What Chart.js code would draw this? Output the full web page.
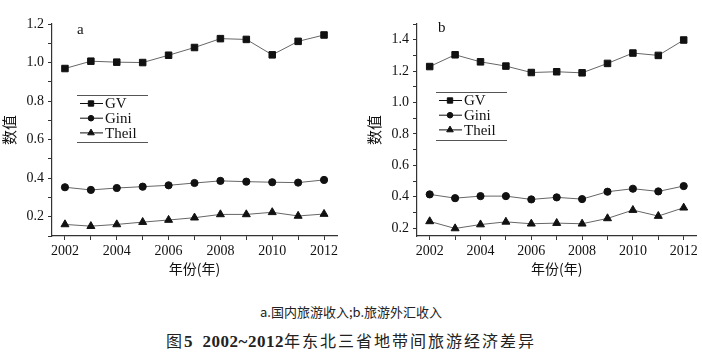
<!DOCTYPE html>
<html>
<head>
<meta charset="utf-8">
<script src="https://cdn.jsdelivr.net/npm/chart.js@4/dist/chart.umd.min.js"></script>
<style>
  body { margin: 0; background: #fff; width: 702px; height: 361px; position: relative; overflow: hidden; }
  .panel { position: absolute; top: 0; height: 290px; }
  #panelA { left: 0; width: 345px; }
  #panelB { left: 365px; width: 337px; }
  .cap { position: absolute; left: 0; width: 702px; text-align: center; color: #222; }
  #sub { top: 302px; font: 13px 'Noto Sans CJK SC', sans-serif; }
  #fig { top: 328px; font: 16px 'Noto Sans CJK SC', serif; letter-spacing: 2px; }
  #fig b { font-family: 'Liberation Serif', serif; font-size: 17px; letter-spacing: 0.5px; }
</style>
</head>
<body>
<div class="panel" id="panelA"><canvas id="chartA"></canvas></div>
<div class="panel" id="panelB"><canvas id="chartB"></canvas></div>
<div class="cap" id="sub">a.国内旅游收入;b.旅游外汇收入</div>
<div class="cap" id="fig">图<b>5 &nbsp;2002~2012</b>年东北三省地带间旅游经济差异</div>
<script>
const years = [2002, 2003, 2004, 2005, 2006, 2007, 2008, 2009, 2010, 2011, 2012];
const yearLabels = ['2002', '2004', '2006', '2008', '2010', '2012'];
const seriesNames = ['GV', 'Gini', 'Theil'];

// a: domestic tourism income
const gvA = [0.969, 1.007, 1.002, 1.000, 1.038, 1.078, 1.124, 1.120, 1.040, 1.110, 1.143];
const giniA = [0.353, 0.339, 0.349, 0.356, 0.363, 0.375, 0.386, 0.382, 0.379, 0.377, 0.391];
const theilA = [0.160, 0.151, 0.160, 0.172, 0.183, 0.195, 0.212, 0.212, 0.223, 0.204, 0.214];
const yTicksA = [0.1, 0.2, 0.3, 0.4, 0.5, 0.6, 0.7, 0.8, 0.9, 1.0, 1.1, 1.2];
const yLabelsA = ['0.2', '0.4', '0.6', '0.8', '1.0', '1.2'];

// b: foreign exchange income
const gvB = [1.229, 1.304, 1.259, 1.232, 1.191, 1.196, 1.189, 1.249, 1.315, 1.300, 1.398];
const giniB = [0.415, 0.391, 0.404, 0.404, 0.383, 0.396, 0.385, 0.432, 0.451, 0.434, 0.468];
const theilB = [0.243, 0.198, 0.223, 0.240, 0.228, 0.232, 0.228, 0.262, 0.315, 0.277, 0.330];
const yTicksB = [0.2, 0.3, 0.4, 0.5, 0.6, 0.7, 0.8, 0.9, 1.0, 1.1, 1.2, 1.3, 1.4, 1.5];
const yLabelsB = ['0.2', '0.4', '0.6', '0.8', '1.0', '1.2', '1.4'];

const MARKERS = [
  { style: 'rect', radius: 4.6 },
  { style: 'circle', radius: 3.6 },
  { style: 'triangle', radius: 4.6 }
];
const LINE = '#666';
const INK = '#111';
const SERIF = "'Liberation Serif', 'Times New Roman', serif";

const legendBox = {
  id: 'legendBox',
  afterDatasetsDraw(chart, args, opts) {
    const ctx = chart.ctx;
    ctx.save();
    ctx.strokeStyle = '#555';
    ctx.lineWidth = 1;
    ctx.beginPath();
    ctx.moveTo(opts.x, opts.y + 0.5);
    ctx.lineTo(opts.x + opts.w, opts.y + 0.5);
    ctx.moveTo(opts.x, opts.y + opts.h + 0.5);
    ctx.lineTo(opts.x + opts.w, opts.y + opts.h + 0.5);
    ctx.stroke();

    chart.data.datasets.forEach((ds, i) => {
      const cy = opts.y + 8.5 + i * 14.7;
      ctx.strokeStyle = INK;
      ctx.beginPath();
      ctx.moveTo(opts.x + 3, cy);
      ctx.lineTo(opts.x + 26, cy);
      ctx.stroke();
      ctx.fillStyle = INK;
      Chart.helpers.drawPoint(ctx, {
        pointStyle: ds.pointStyle, radius: ds.pointRadius - 0.8, rotation: 0, borderWidth: 1
      }, opts.x + 14, cy);
      ctx.font = '15px ' + SERIF;
      ctx.textBaseline = 'middle';
      ctx.textAlign = 'left';
      ctx.fillText(ds.label, opts.x + 28, cy + 1);
    });

    ctx.font = '15px ' + SERIF;
    ctx.textBaseline = 'middle';
    ctx.fillText(opts.letter, opts.lx, opts.ly);
    ctx.restore();
  }
};

function fixedTicks(values) {
  return (s) => { s.ticks = values.map(v => ({ value: v })); };
}

function makeChart(id, values, yTicks, yLabels, yMin, yMax, legend) {
  const datasets = values.map((vals, i) => ({
    label: seriesNames[i],
    data: years.map((yr, k) => ({ x: yr, y: vals[k] })),
    borderColor: LINE,
    borderWidth: 1,
    backgroundColor: INK,
    pointBackgroundColor: INK,
    pointBorderColor: INK,
    pointBorderWidth: 1,
    pointStyle: MARKERS[i].style,
    pointRadius: MARKERS[i].radius,
    tension: 0
  }));

  return new Chart(document.getElementById(id), {
    type: 'line',
    data: { datasets },
    options: {
      responsive: true,
      maintainAspectRatio: false,
      animation: false,
      layout: { padding: { top: 24, right: legend.padRight, left: 0, bottom: 0 } },
      plugins: {
        legend: { display: false },
        tooltip: { enabled: false },
        legendBox: legend
      },
      scales: {
        x: {
          type: 'linear',
          min: 2001.5,
          max: 2012.5,
          afterBuildTicks: fixedTicks(years),
          afterFit: (s) => { s.height = 54; },
          border: { color: '#333', width: 1.2 },
          grid: { drawOnChartArea: false, drawTicks: true, tickLength: 4, color: '#333' },
          ticks: {
            autoSkip: false,
            maxRotation: 0,
            padding: 3,
            color: INK,
            font: { family: SERIF, size: 14 },
            callback: (v) => (yearLabels.includes(String(v)) ? String(v) : '')
          },
          title: {
            display: true,
            text: '年份(年)',
            color: INK,
            padding: { top: 0, bottom: 13 },
            font: { family: "'Noto Sans CJK SC', sans-serif", size: 14 }
          }
        },
        y: {
          min: yMin,
          max: yMax,
          afterBuildTicks: fixedTicks(yTicks),
          afterFit: (s) => { s.width = 52; },
          border: { color: '#333', width: 1.2 },
          grid: { drawOnChartArea: false, drawTicks: true, tickLength: 4, color: '#333' },
          ticks: {
            autoSkip: false,
            padding: 4,
            color: INK,
            font: { family: SERIF, size: 14 },
            callback: (v) => (yLabels.includes(v.toFixed(1)) ? v.toFixed(1) : '')
          },
          title: {
            display: true,
            text: '数值',
            color: INK,
            padding: { top: 0, bottom: 0 },
            font: { family: "'Noto Sans CJK SC', sans-serif", size: 15 }
          }
        }
      }
    },
    plugins: [legendBox]
  });
}

makeChart('chartA', [gvA, giniA, theilA], yTicksA, yLabelsA, 0.1, 1.2,
  { x: 77, y: 95, w: 71, h: 47, letter: 'a', lx: 77, ly: 30, padRight: 8 });
makeChart('chartB', [gvB, giniB, theilB], yTicksB, yLabelsB, 0.15, 1.5,
  { x: 71, y: 92, w: 71, h: 48, letter: 'b', lx: 73, ly: 28, padRight: 2 });
</script>
</body>
</html>
